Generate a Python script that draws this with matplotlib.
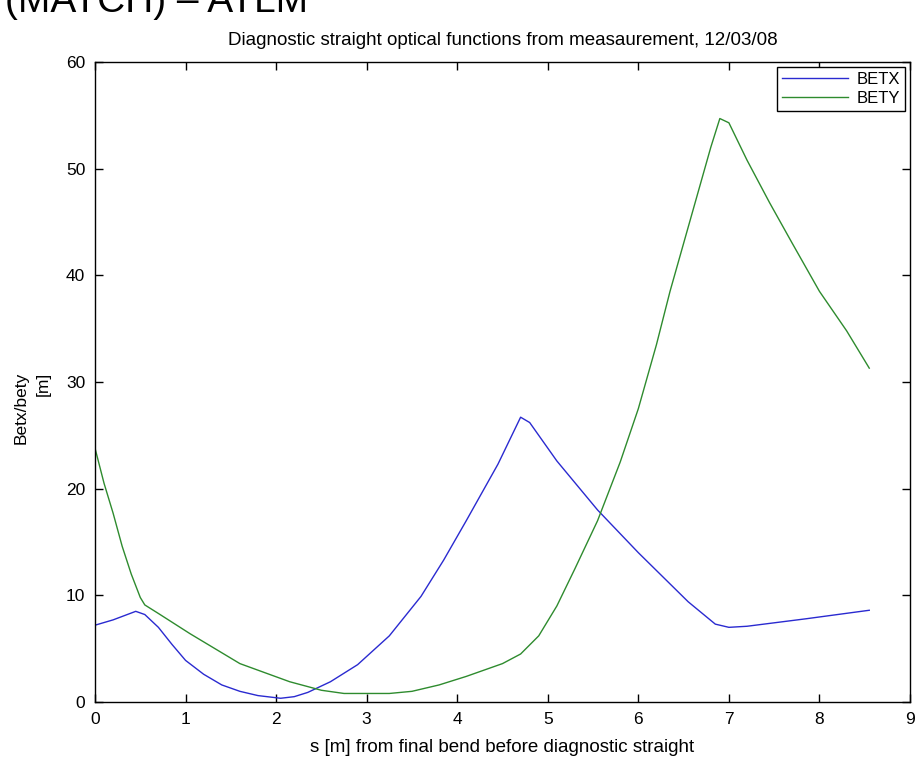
import matplotlib
matplotlib.use("Agg")
import matplotlib.pyplot as plt

# values
s_betx = [0, 0.2, 0.45, 0.55, 0.7, 0.85, 1.0, 1.2, 1.4, 1.6, 1.8, 2.05, 2.2,
          2.35, 2.6, 2.9, 3.25, 3.6, 3.85, 4.1, 4.45, 4.7, 4.8, 5.1, 5.55,
          6.0, 6.55, 6.85, 7.0, 7.2, 7.85, 8.55]
betx = [7.2, 7.7, 8.5, 8.2, 7.0, 5.4, 3.9, 2.6, 1.6, 1.0, 0.6, 0.35, 0.5,
        0.9, 1.9, 3.5, 6.2, 9.9, 13.3, 17.0, 22.3, 26.7, 26.2, 22.6, 18.0,
        14.0, 9.4, 7.3, 7.0, 7.1, 7.8, 8.6]

s_bety = [0, 0.1, 0.2, 0.3, 0.4, 0.5, 0.55, 0.7, 1.05, 1.6, 2.15, 2.5, 2.75,
          3.25, 3.5, 3.8, 4.1, 4.5, 4.7, 4.9, 5.1, 5.3, 5.55, 5.8, 6.0, 6.2,
          6.35, 6.5, 6.65, 6.8, 6.9, 7.0, 7.2, 7.45, 7.7, 8.0, 8.3, 8.55]
bety = [23.8, 20.5, 17.7, 14.6, 12.0, 9.8, 9.1, 8.3, 6.4, 3.6, 1.9, 1.1, 0.8,
        0.8, 1.0, 1.6, 2.4, 3.6, 4.5, 6.2, 9.0, 12.5, 17.0, 22.5, 27.5, 33.5,
        38.5, 43.0, 47.5, 52.0, 54.7, 54.3, 50.8, 46.8, 43.0, 38.5, 34.8, 31.3]

x_ticks = [0, 1, 2, 3, 4, 5, 6, 7, 8, 9]
y_ticks = [0, 10, 20, 30, 40, 50, 60]

plt.rcParams["font.family"] = ["Liberation Sans", "DejaVu Sans"]

fig = plt.figure(figsize=(9.17, 7.58), dpi=100)
ax = fig.add_axes([95 / 917, 56 / 758, 815 / 917, 640 / 758])

ax.plot(s_betx, betx, color="#2a2ad0", linewidth=1.0, label="BETX")
ax.plot(s_bety, bety, color="#2e8b2e", linewidth=1.0, label="BETY")

ax.set_xlim(0, 9)
ax.set_ylim(0, 60)
ax.set_xticks(x_ticks)
ax.set_yticks(y_ticks)
ax.tick_params(direction="in", length=6, width=1.0, top=True, right=True,
               labelsize=12.5, colors="black")
ax.tick_params(axis="x", pad=7)
ax.tick_params(axis="y", pad=7)
for sp in ax.spines.values():
    sp.set_linewidth(1.0)

ax.set_title("Diagnostic straight optical functions from measaurement, 12/03/08",
             fontsize=13.5, pad=12)
ax.set_xlabel("s [m] from final bend before diagnostic straight", fontsize=13.5,
              labelpad=9)

# two-line y label, placed as in the reference
fig.text(21 / 917, 1 - 408 / 758, "Betx/bety", rotation=90, fontsize=12.5,
         ha="center", va="center")
fig.text(43 / 917, 1 - 384 / 758, "[m]", rotation=90, fontsize=12.5,
         ha="center", va="center")

leg = ax.legend(loc="upper right", fontsize=12, handlelength=4.0, fancybox=False,
                framealpha=1, edgecolor="black", borderaxespad=0.3, handletextpad=0.5,
                labelspacing=0.25, borderpad=0.3)
leg.get_frame().set_linewidth(1.0)

# slide heading cut off at the top edge
fig.text(0.005, 1 - 12 / 758, "(MATCH) – ATLM", fontsize=28,
         va="baseline", ha="left")

fig.savefig("out.png", dpi=100)
plt.close(fig)
